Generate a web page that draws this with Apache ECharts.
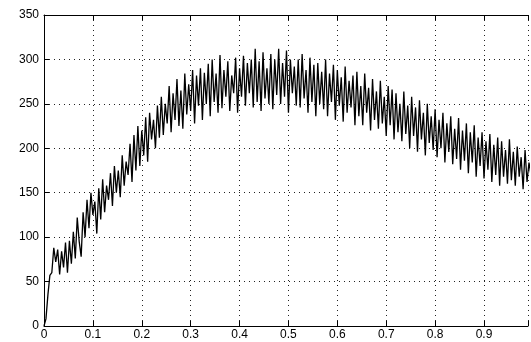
<!DOCTYPE html>
<html>
<head>
<meta charset="utf-8">
<script src="https://cdn.jsdelivr.net/npm/echarts@6/dist/echarts.min.js"></script>
<style>
  html, body { margin: 0; padding: 0; background: #fff; }
  #scope { width: 531px; height: 342px; }
</style>
</head>
<body>
<div id="scope"></div>
<script>
// sample step of the trace (s)
const dt = 0.004
// trace values, one every dt starting at t = 0
const values = [
  0, 8, 35, 57, 60, 88, 72, 86, 58, 84,
  66, 94, 60, 96, 70, 106, 76, 122, 95, 78,
  128, 100, 142, 110, 150, 125, 140, 104, 155, 120,
  165, 128, 158, 142, 172, 135, 180, 150, 175, 145,
  192, 158, 185, 170, 205, 162, 215, 175, 225, 180,
  220, 192, 235, 185, 240, 210, 232, 200, 248, 212,
  258, 215, 250, 228, 270, 218, 262, 232, 278, 225,
  265, 222, 284, 238, 272, 242, 288, 228, 282, 248,
  290, 232, 285, 250, 295, 236, 300, 252, 284, 240,
  305, 245, 288, 258, 298, 242, 282, 262, 302, 240,
  290, 258, 304, 248, 296, 262, 300, 246, 312, 252,
  298, 242, 308, 256, 290, 250, 306, 244, 300, 260,
  312, 250, 296, 258, 310, 240, 300, 262, 292, 248,
  300, 246, 306, 256, 288, 240, 302, 252, 294, 236,
  296, 250, 286, 244, 300, 236, 284, 252, 294, 232,
  288, 248, 280, 230, 292, 240, 276, 246, 282, 226,
  286, 236, 270, 226, 284, 240, 268, 220, 278, 232,
  264, 222, 276, 228, 258, 214, 270, 226, 266, 210,
  262, 218, 250, 208, 264, 216, 248, 200, 258, 214,
  246, 196, 254, 210, 240, 192, 250, 206, 236, 198,
  244, 190, 232, 200, 240, 184, 228, 196, 236, 182,
  222, 188, 234, 176, 220, 186, 228, 172, 218, 184,
  226, 168, 212, 180, 218, 166, 208, 176, 216, 162,
  204, 170, 212, 158, 208, 168, 198, 160, 210, 164,
  196, 158, 202, 168, 190, 154, 198, 162, 184, 170
]
const xTicks = ['0', '0.1', '0.2', '0.3', '0.4', '0.5', '0.6', '0.7', '0.8', '0.9']
const yTicks = ['0', '50', '100', '150', '200', '250', '300', '350']

const points = values.map((v, i) => [i * dt, v])

const dotted = { color: '#222', width: 1, type: [1, 4] }
const labelFont = { color: '#000', fontFamily: 'Liberation Sans', fontSize: 12 }

const chart = echarts.init(document.getElementById('scope'), null, { renderer: 'canvas' })
chart.setOption({
  animation: false,
  backgroundColor: '#fff',
  grid: { left: 44, right: 0, top: 15, bottom: 16 },
  xAxis: [
    {
      type: 'value', min: 0, max: 0.99, interval: 0.1,
      axisLine: { show: true, lineStyle: { color: '#000', width: 1 } },
      axisTick: { show: true, inside: true, length: 5, lineStyle: { color: '#000' } },
      axisLabel: Object.assign({
        margin: 3,
        formatter: (v) => { const i = Math.round(v * 10); return i < xTicks.length ? xTicks[i] : '' }
      }, labelFont),
      splitLine: { show: true, lineStyle: dotted }
    },
    {
      type: 'value', position: 'top', min: 0, max: 0.99, interval: 0.1,
      axisLine: { show: true, lineStyle: { color: '#000', width: 1 } },
      axisTick: { show: true, inside: true, length: 5, lineStyle: { color: '#000' } },
      axisLabel: { show: false },
      splitLine: { show: false }
    }
  ],
  yAxis: {
    type: 'value', min: 0, max: 350, interval: 50,
    axisLine: { show: true, lineStyle: { color: '#000', width: 1 } },
    axisTick: { show: true, inside: true, length: 5, lineStyle: { color: '#000' } },
    axisLabel: Object.assign({
      margin: 5,
      formatter: (v) => yTicks[Math.round(v / 50)]
    }, labelFont),
    splitLine: { show: true, lineStyle: dotted }
  },
  series: [{
    type: 'line',
    data: points,
    showSymbol: false,
    lineStyle: { color: '#000', width: 1.3 },
    clip: true
  }]
})
</script>
</body>
</html>
